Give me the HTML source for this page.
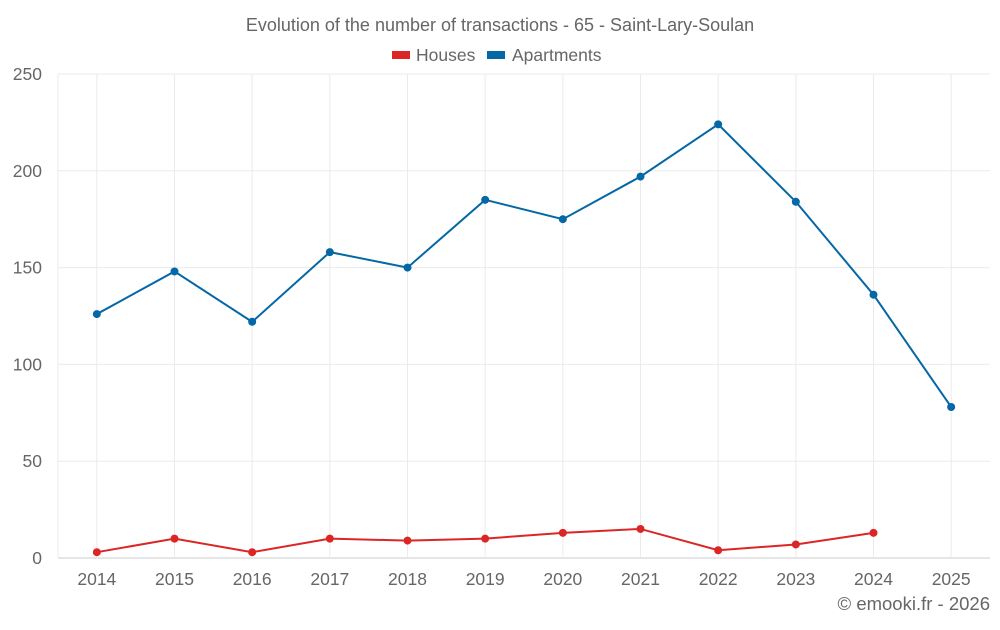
<!DOCTYPE html>
<html><head><meta charset="utf-8"><style>
body{margin:0;background:#fff;font-family:"Liberation Sans",sans-serif}
svg text{font-family:"Liberation Sans",sans-serif;fill:#666}
</style></head><body>
<svg id="c" width="1000" height="625">
<text x="500" y="31" text-anchor="middle" font-size="18">Evolution of the number of transactions - 65 - Saint-Lary-Soulan</text>
<g><rect x="392" y="51" width="18" height="8" fill="#dc2626"/><text x="416" y="61" font-size="17.5">Houses</text></g>
<g><rect x="487" y="51" width="18" height="8" fill="#0467a6"/><text x="512" y="61" font-size="17.5">Apartments</text></g>
<g id="grid"></g><g id="axes"></g><g id="series"></g>
<text x="990" y="610" text-anchor="end" font-size="18.5">© emooki.fr - 2026</text>
</svg>
<script>
const categories=["2014","2015","2016","2017","2018","2019","2020","2021","2022","2023","2024","2025"];
const apartments=[126,148,122,158,150,185,175,197,224,184,136,78];
const houses=[3,10,3,10,9,10,13,15,4,7,13];
const yTicks=[0,50,100,150,200,250];
const NS="http://www.w3.org/2000/svg";
const L=58,R=990,T=74,B=558,yMax=250;
const step=(R-L)/categories.length;
const x=i=>L+step*(i+0.5);
const y=v=>B-(v/yMax)*(B-T);
function mk(t,a,p){const e=document.createElementNS(NS,t);for(const k in a)e.setAttribute(k,a[k]);p.appendChild(e);return e;}
const g=document.getElementById('grid'),ax=document.getElementById('axes'),s=document.getElementById('series');
yTicks.forEach(v=>{
 const l=mk('line',{x1:L,x2:R,y1:y(v),y2:y(v),stroke:v===0?'#ccc':'#ebebeb'},g);
 
 
 const t=mk('text',{x:42,y:y(v)+6,'text-anchor':'end','font-size':17.5},ax);t.textContent=v;
 
 
});
mk('line',{x1:L,x2:L,y1:T,y2:B,stroke:'#ebebeb'},g);
categories.forEach((c,i)=>{
 const l=mk('line',{x1:x(i),x2:x(i),y1:T,y2:B,stroke:'#ebebeb'},g);
 
 
 const t=mk('text',{x:x(i),y:585,'text-anchor':'middle','font-size':17.5},ax);t.textContent=c;
 
 
});
function series(vals,color,name){
 const p=mk('polyline',{points:vals.map((v,i)=>x(i)+','+y(v)).join(' '),fill:'none',stroke:color,'stroke-width':2},s);
 
 
 vals.forEach((v,i)=>{const c=mk('circle',{cx:x(i),cy:y(v),r:4,fill:color},s);
  
  });
}
series(houses,'#dc2626','houses');
series(apartments,'#0467a6','apartments');
</script>
</body></html>
